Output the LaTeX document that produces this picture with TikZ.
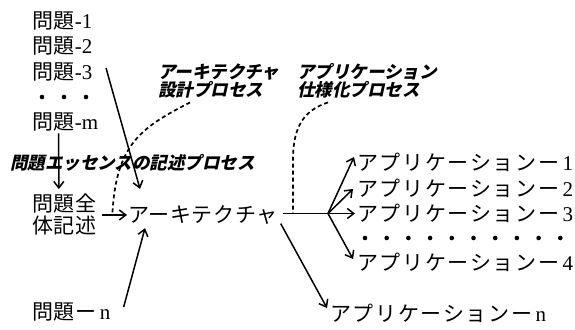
\documentclass[tikz,border=0pt]{standalone}
\usepackage{fontspec}
\setmainfont{Liberation Serif}
\newfontfamily\jp{Noto Sans CJK JP}[LetterSpace=3]
\newfontfamily\jpw{Noto Sans CJK JP}[LetterSpace=8]
\newfontfamily\jpl{Noto Sans CJK JP}[FakeSlant=0.22]
\usetikzlibrary{arrows.meta}
\begin{document}
\begin{tikzpicture}[x=1pt,y=-1pt,
  txt/.style={anchor=west,inner sep=0pt,font=\fontsize{21}{22}\selectfont},
  lab/.style={anchor=west,inner sep=0pt,align=left,font=\fontsize{17.5}{16}\selectfont\jpl\bfseries},
  arr/.style={line width=1.5pt,-{Straight Barb[length=6.5pt,width=10pt,line width=1.5pt]}},
  ln/.style={line width=1.5pt},
  dsh/.style={line width=1.7pt,dash pattern=on 4pt off 3pt}]
\useasboundingbox (0,0) rectangle (575,329);
% left column
\node[txt] (p1) at (32,21) {{\jp 問題}-1};
\node[txt] (p2) at (32,46) {{\jp 問題}-2};
\node[txt] (p3) at (32,72) {{\jp 問題}-3};
\foreach \x in {42,64,86} \fill (\x,97) circle (2.3);
\node[txt] (pm) at (32,122) {{\jp 問題}-m};
\node[txt,align=left] (pall) at (32,214) {\jp 問題全\\\jp 体記述};
\node[txt] (pn) at (32,312) {{\jp 問題ー}\,n};
% centre
\node[txt] (arch) at (128,215) {\jp アーキテクチャ};
% labels
\node[lab] (l1) at (10,163) {問題エッセンスの記述プロセス};
\node[lab] (l2) at (158,81) {アーキテクチャ\\設計プロセス};
\node[lab] (l3) at (297,81) {アプリケーション\\仕様化プロセス};
% applications
\node[txt] (a1) at (357,162) {{\jpw アプリケーションー}\,1};
\node[txt] (a2) at (357,188) {{\jpw アプリケーションー}\,2};
\node[txt] (a3) at (357,213) {{\jpw アプリケーションー}\,3};
\foreach \i in {0,...,9} \fill (365+21.7*\i,238) circle (2.3);
\node[txt] (a4) at (357,262) {{\jpw アプリケーションー}\,4};
\node[txt] (an) at (330,313) {{\jpw アプリケーションー}\,n};
% connectors
\draw[arr] ([shift={(-6.5,2)}]pm.south) -- ([shift={(-5.5,-4)}]pall.north);
\draw[arr] ([shift={(13.5,-4)}]p3.east) -- ([shift={(12,-16.5)}]arch.north west);
\draw[arr] ([shift={(13,-5)}]pn.east) -- ([shift={(17,3.5)}]arch.south west);
\draw[arr] ([shift={(5,1)}]pall.east) -- ([shift={(-1,0)}]arch.west);
\path (pall.east) -- (arch.west) coordinate[pos=0.5] (m1);
\coordinate (br) at (328,213.5);
\draw[ln] ([shift={(5,-1.5)}]arch.east) -- (br);
\draw[arr] (br) -- ([shift={(-3,-5)}]a1.west);
\draw[arr] (br) -- ([shift={(-4,1)}]a2.west);
\draw[arr] (br) -- ([shift={(-2,0.5)}]a3.west);
\draw[arr] (br) -- ([shift={(-4,-3)}]a4.west);
\draw[arr] ([shift={(3,-1)}]arch.south east) -- ([shift={(-3,-5)}]an.west);
% process (dashed) curves
\draw[dsh] ([shift={(32,4)}]l2.south west) .. controls (140,128) and (116,145) .. (m1);
\draw[dsh] ([shift={(31,4)}]l3.south west) .. controls (305,110) and (293,125) .. (293,160) -- ([shift={(-35,0)}]br);
\end{tikzpicture}
\end{document}
